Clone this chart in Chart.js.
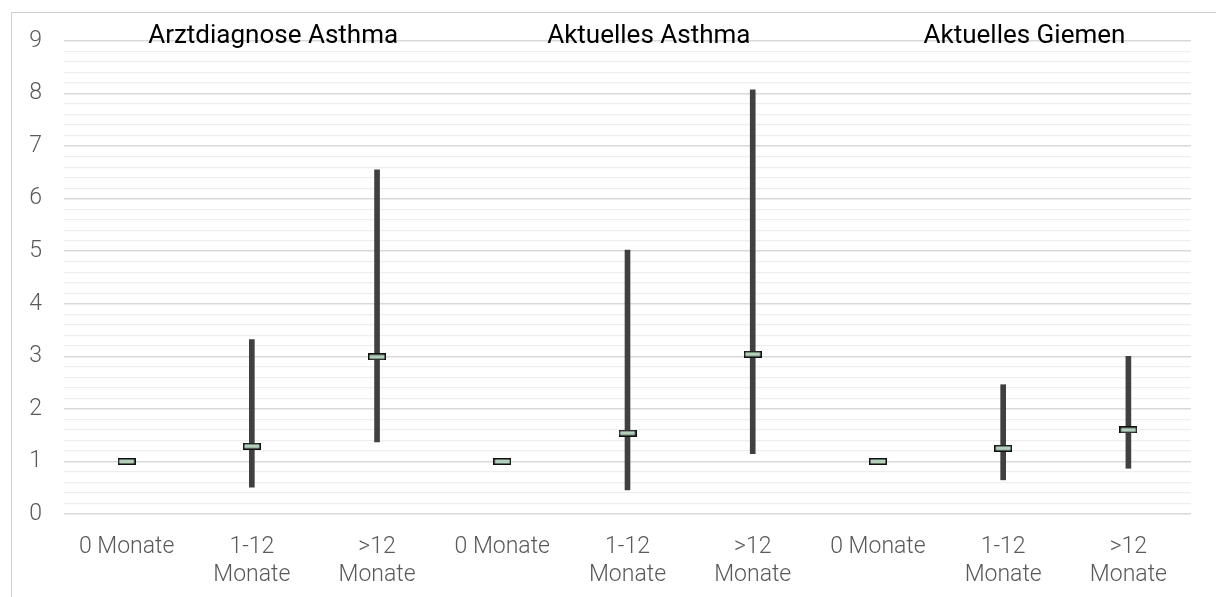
<!DOCTYPE html>
<html>
<head>
<meta charset="utf-8">
<script src="https://cdn.jsdelivr.net/npm/chart.js@4.4.1/dist/chart.umd.min.js"></script>
<style>
  html, body { margin: 0; padding: 0; background: #fff; overflow: hidden; }
  #wrap { position: relative; width: 1216px; height: 597px; }
  #frame { position: absolute; left: 11px; top: 12px; width: 1300px; height: 700px; border: 1px solid #d0d0d0; }
  #chart { position: absolute; left: 0; top: 0; }
</style>
</head>
<body>
<div id="wrap">
  <div id="frame"></div>
  <canvas id="chart" width="1216" height="597"></canvas>
</div>
<script>
// categories (3 groups x 3 durations)
const categories = [
  ['0 Monate'], ['1-12', 'Monate'], ['>12', 'Monate'],
  ['0 Monate'], ['1-12', 'Monate'], ['>12', 'Monate'],
  ['0 Monate'], ['1-12', 'Monate'], ['>12', 'Monate']
];
const groupTitles = ['Arztdiagnose Asthma', 'Aktuelles Asthma', 'Aktuelles Giemen'];

// odds ratio + confidence interval
const oddsRatio = [1.0, 1.29, 2.99, 1.0, 1.54, 3.04, 1.0, 1.25, 1.60];
const lowerCI   = [null, 0.51, 1.37, null, 0.46, 1.15, null, 0.65, 0.87];
const upperCI   = [null, 3.32, 6.55, null, 5.02, 8.07, null, 2.46, 3.00];

const yTicksMax = 9;

// small box marker for the point estimate
const marker = document.createElement('canvas');
marker.width = 18;
marker.height = 7;
const mctx = marker.getContext('2d');
mctx.fillStyle = '#b3d0bd';
mctx.fillRect(1, 1, 16, 5);
mctx.strokeStyle = '#111';
mctx.lineWidth = 1.5;
mctx.strokeRect(0.75, 0.75, 16.5, 5.5);

const isWhole = v => Math.abs(v - Math.round(v)) < 1e-6;

// group titles on top of the plot
const titlePlugin = {
  id: 'groupTitles',
  afterDraw(chart) {
    const ctx = chart.ctx;
    const x = chart.scales.x, y = chart.scales.y;
    ctx.save();
    ctx.font = '400 26px Roboto';
    ctx.fillStyle = '#000';
    ctx.textAlign = 'center';
    ctx.textBaseline = 'alphabetic';
    for (let g = 0; g < groupTitles.length; g++) {
      ctx.fillText(groupTitles[g], x.getPixelForValue(g * 3 + 1.17), y.getPixelForValue(yTicksMax) + 2);
    }
    ctx.restore();
  }
};

const ranges = lowerCI.map((lo, i) => lo === null ? null : [lo, upperCI[i]]);

new Chart(document.getElementById('chart'), {
  type: 'bar',
  data: {
    labels: categories,
    datasets: [{
      label: 'OR',
      type: 'line',
      data: oddsRatio,
      showLine: false,
      pointStyle: marker,
      order: 1
    }, {
      label: 'KI',
      data: ranges,
      backgroundColor: '#404040',
      borderWidth: 0,
      borderSkipped: false,
      barThickness: 5,
      order: 2
    }]
  },
  options: {
    responsive: false,
    animation: false,
    layout: { padding: { top: 41, right: 25, left: 0, bottom: 0 } },
    plugins: {
      legend: { display: false },
      tooltip: { enabled: false }
    },
    scales: {
      x: {
        grid: { display: false, drawTicks: false },
        border: { display: false },
        ticks: {
          color: '#595959',
          font: { family: 'Roboto', weight: '300', size: 23, lineHeight: 1.22 },
          padding: 19,
          maxRotation: 0,
          autoSkip: false
        },
        afterFit: s => { s.height = 83; }
      },
      y: {
        min: 0,
        max: yTicksMax,
        grid: {
          drawTicks: false,
          color: c => isWhole(c.tick.value) ? '#d9d9d9' : '#eeeeee',
          lineWidth: c => isWhole(c.tick.value) ? 1.5 : 1.2
        },
        border: { display: false },
        ticks: {
          stepSize: 0.2,
          autoSkip: false,
          padding: 22,
          color: '#595959',
          font: { family: 'Roboto', weight: '300', size: 23 },
          callback: v => isWhole(v) ? String(Math.round(v)) : ''
        },
        afterFit: s => { s.width = 64; }
      }
    }
  },
  plugins: [titlePlugin]
});
</script>
</body>
</html>
